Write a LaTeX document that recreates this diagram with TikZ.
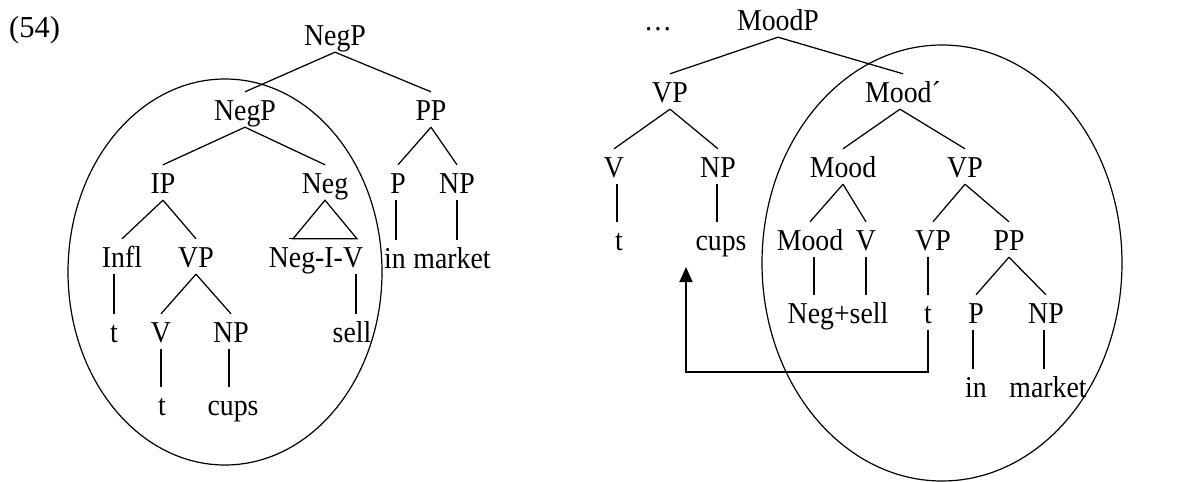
\documentclass[tikz,border=0pt]{standalone}
\usepackage{fontspec}
\usepackage{graphicx}
\setmainfont{Liberation Serif}
\usetikzlibrary{arrows.meta}
\newcommand{\vst}[1]{\scalebox{1}[1.09]{#1}}
\begin{document}
\begin{tikzpicture}[x=1pt,y=-1pt,
  lab/.style={anchor=base,font=\fontsize{27.8}{33}\selectfont,text height=21pt,text depth=0pt,inner xsep=1pt,inner ysep=7pt},
  edge/.style={line width=1.25pt},
  circ/.style={line width=1.2pt},
  move/.style={line width=1.7pt,-{Triangle[length=15pt,width=13pt]}}]
\useasboundingbox (0,0) rectangle (1187,482);
% left tree
\node[lab,anchor=base west,font=\fontsize{30.5}{36}\selectfont,inner xsep=0pt] (ex) at (9,37) {(54)};
\node[lab] (negp) at (335,45) {\vst{NegP}};
\node[lab] (negp2) at (245,120) {\vst{NegP}};
\node[lab] (pp) at (431,120) {\vst{PP}};
\node[lab] (ip) at (163,193) {\vst{IP}};
\node[lab] (neg) at (325,193) {\vst{Neg}};
\node[lab] (p) at (398,193) {\vst{P}};
\node[lab] (np) at (457,193) {\vst{NP}};
\node[lab] (infl) at (122,267) {\vst{Infl}};
\node[lab] (vp) at (196,267) {\vst{VP}};
\node[lab] (negiv) at (316,267) {\vst{Neg-I-V}};
\node[lab] (in) at (395,268) {\vst{in}};
\node[lab] (market) at (452,268) {\vst{market}};
\node[lab] (t1) at (114,342) {\vst{t}};
\node[lab] (v1) at (161,342) {\vst{V}};
\node[lab] (np1) at (231,342) {\vst{NP}};
\node[lab] (sell) at (352,342) {\vst{sell}};
\node[lab] (t2) at (162,415) {\vst{t}};
\node[lab] (cups) at (233,415) {\vst{cups}};
\begin{scope}[edge]
\draw (negp.south) -- (negp2.north);
\draw (negp.south) -- (pp.north);
\draw (negp2.south) -- (ip.north);
\draw (negp2.south) -- (neg.north);
\draw (pp.south) -- (p.north);
\draw (pp.south) -- (np.north);
\draw (ip.south) -- (infl.north);
\draw (ip.south) -- (vp.north);
\draw (vp.south) -- (v1.north);
\draw (vp.south) -- (np1.north);
\draw (neg.south) -- ([xshift=-32pt]neg.south |- negiv.north) -- ([xshift=32pt]neg.south |- negiv.north) -- cycle;
\draw ([xshift=-36pt]neg.south |- negiv.north) -- ([xshift=32pt]neg.south |- negiv.north);
\draw ([xshift=-2pt]p.south) -- ([xshift=-2pt]p.south |- in.north);
\draw (np.south) -- (np.south |- market.north);
\draw ([xshift=-8pt]infl.south) -- ([xshift=-8pt]infl.south |- t1.north);
\draw (v1.south) -- (v1.south |- t2.north);
\draw ([xshift=-2pt]np1.south) -- ([xshift=-2pt]np1.south |- cups.north);
\draw ([xshift=4pt]sell.north) -- ([xshift=4pt]sell.north |- negiv.south);
\end{scope}
\draw[circ] (225,272) ellipse [x radius=157pt, y radius=193pt];
% right tree
\node[lab] (dots) at (658,30) {\vst{…}};
\node[lab] (moodp) at (778,30) {\vst{MoodP}};
\node[lab] (vpa) at (670,102) {\vst{VP}};
\node[lab] (moodbar) at (903,102) {\vst{Mood´}};
\node[lab] (va) at (614,177) {\vst{V}};
\node[lab] (npa) at (718,177) {\vst{NP}};
\node[lab] (mood) at (843,177) {\vst{Mood}};
\node[lab] (vpb) at (965,177) {\vst{VP}};
\node[lab] (ta) at (619,250) {\vst{t}};
\node[lab] (cupsa) at (721,250) {\vst{cups}};
\node[lab] (mood2) at (810,250) {\vst{Mood}};
\node[lab] (vb) at (866,250) {\vst{V}};
\node[lab] (vpc) at (933,250) {\vst{VP}};
\node[lab] (ppb) at (1009,250) {\vst{PP}};
\node[lab] (negsell) at (838,323) {\vst{Neg+sell}};
\node[lab] (tb) at (928,323) {\vst{t}};
\node[lab] (pb) at (976,323) {\vst{P}};
\node[lab] (npb) at (1046,323) {\vst{NP}};
\node[lab] (inb) at (976,397) {\vst{in}};
\node[lab] (marketb) at (1048,397) {\vst{market}};
\begin{scope}[edge]
\draw (moodp.south) -- (vpa.north);
\draw (moodp.south) -- (moodbar.north);
\draw (vpa.south) -- (va.north);
\draw (vpa.south) -- (npa.north);
\draw ([xshift=-3pt]moodbar.south) -- (mood.north);
\draw ([xshift=-3pt]moodbar.south) -- (vpb.north);
\draw (mood.south) -- (mood2.north);
\draw (mood.south) -- (vb.north);
\draw (vpb.south) -- (vpc.north);
\draw (vpb.south) -- (ppb.north);
\draw (ppb.south) -- (pb.north);
\draw (ppb.south) -- (npb.north);
\draw ([xshift=3pt]va.south) -- ([xshift=3pt]va.south |- ta.north);
\draw ([xshift=-1pt]npa.south) -- ([xshift=-1pt]npa.south |- cupsa.north);
\draw ([xshift=4pt]mood2.south) -- ([xshift=4pt]mood2.south |- negsell.north);
\draw (vb.south) -- (vb.south |- negsell.north);
\draw (tb.north) -- (tb.north |- vpc.south);
\draw ([xshift=-3pt]pb.south) -- ([xshift=-3pt]pb.south |- inb.north);
\draw ([xshift=-2pt]npb.south) -- ([xshift=-2pt]npb.south |- marketb.north);
\end{scope}
\coordinate (turn) at (686,372);
\coordinate (tip) at (686,267);
\draw[move] (tb.south) |- (turn) -- (tip);
\draw[circ] (942,263) ellipse [x radius=180pt, y radius=218pt];
\end{tikzpicture}
\end{document}
